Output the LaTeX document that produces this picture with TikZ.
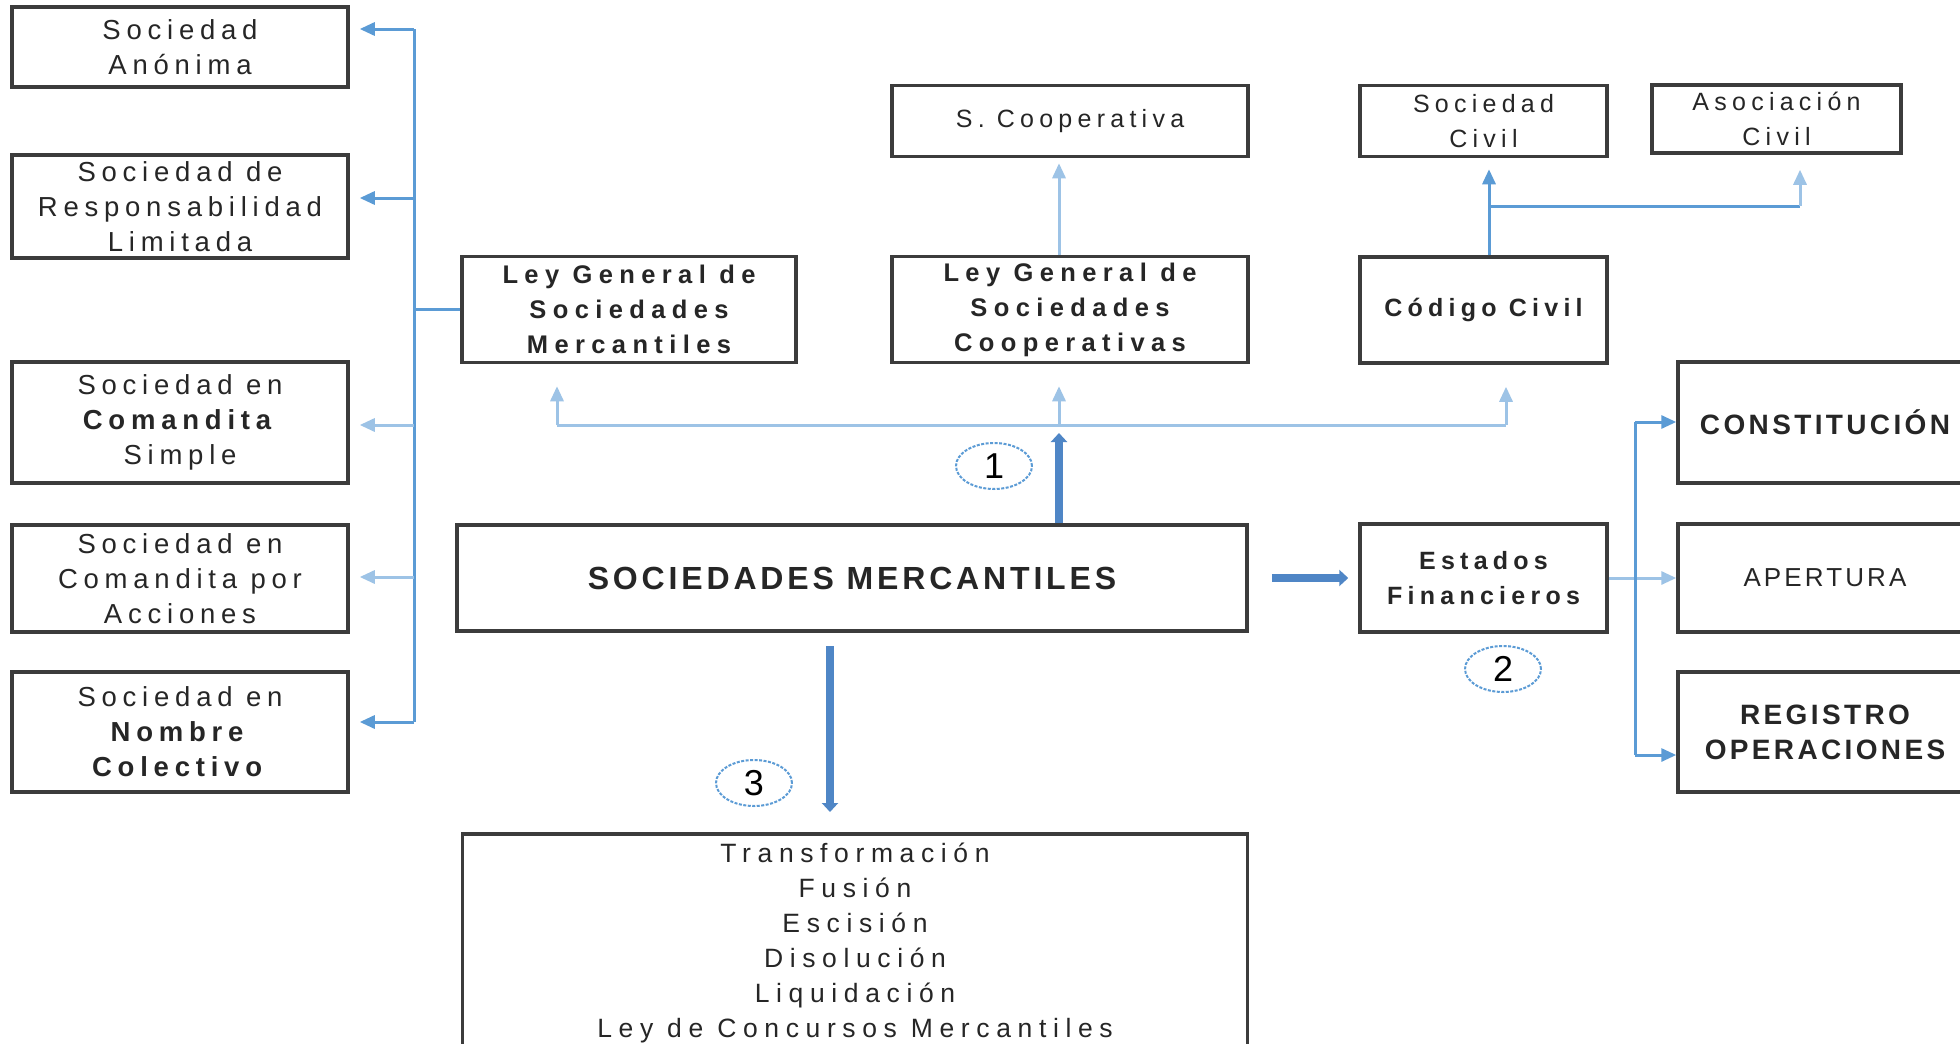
\documentclass[tikz,border=0pt]{standalone}
\usepackage{fontspec}
\setmainfont{Liberation Sans}[LetterSpace=21]
\newfontfamily\capsfont{Liberation Sans}[LetterSpace=12]
\newfontfamily\widefont{Liberation Sans}[LetterSpace=25]
\newfontfamily\plainfont{Liberation Sans}
\usetikzlibrary{arrows.meta,shapes.geometric}
\definecolor{bline}{HTML}{5B9BD5}
\definecolor{lline}{HTML}{9DC3E6}
\definecolor{tline}{HTML}{4F86C6}
\definecolor{bord}{HTML}{3C3C3C}
\newcommand\fszL{\fontsize{27.5}{35}\selectfont}
\newcommand\fszM{\fontsize{25}{35}\selectfont}
\newcommand\fszW{\widefont\fontsize{25.5}{35}\selectfont}
\newcommand\fszC{\capsfont\bfseries\fontsize{28}{35}\selectfont}
\begin{document}
\begin{tikzpicture}[x=1pt,y=-1pt,
  box/.style={draw=bord, line width=3.5pt, fill=white, inner sep=0pt, align=center, text=black!85},
  midl/.style={draw=bline, line width=3pt},
  lightl/.style={draw=lline, line width=3pt},
  tipA/.style={-{Triangle[width=13pt,length=15pt]}},
  thickarr/.style={draw=tline, line width=8pt, -{Triangle[width=16pt,length=9pt]}},
  num/.style={ellipse, draw=bline, line width=2pt, dash pattern=on 3pt off 1.5pt, minimum width=76pt, minimum height=46pt, inner sep=0pt, font=\plainfont\fontsize{36}{36}\selectfont}]
\useasboundingbox (0,0) rectangle (1960,1044);
\clip (0,0) rectangle (1960,1044);
\fill[white] (0,0) rectangle (1960,1044);

% left column
\node[box, minimum width=336pt, minimum height=80pt, font=\fszL] (sa) at (180,47) {Sociedad\\Anónima};
\node[box, minimum width=336pt, minimum height=103pt, font=\fszL] (srl) at (180,206.5) {Sociedad de\\Responsabilidad\\Limitada};
\node[box, minimum width=336pt, minimum height=121pt, font=\fszL] (scs) at (180,422.5) {Sociedad en\\\textbf{Comandita}\\Simple};
\node[box, minimum width=336pt, minimum height=107pt, font=\fszL] (sca) at (180,578.5) {Sociedad en\\Comandita por\\Acciones};
\node[box, minimum width=336pt, minimum height=120pt, font=\fszL] (snc) at (180,732) {Sociedad en\\\textbf{Nombre}\\\textbf{Colectivo}};

% middle / top
\node[box, minimum width=334pt, minimum height=106pt, font=\fszW\bfseries] (lgsm) at (629,309.5) {Ley General de\\Sociedades\\Mercantiles};
\node[box, minimum width=356pt, minimum height=106pt, font=\fszW\bfseries] (lgsc) at (1070,309.5) {Ley General de\\Sociedades\\Cooperativas};
\node[box, minimum width=356pt, minimum height=71pt, font=\fszM] (scoop) at (1070,121) {S. Cooperativa};
\node[box, minimum width=247pt, minimum height=71pt, font=\fszM] (sciv) at (1483.5,121) {Sociedad\\Civil};
\node[box, minimum width=249pt, minimum height=68pt, font=\fszM] (aciv) at (1776.5,119) {Asociación\\Civil};
\node[box, minimum width=247pt, minimum height=106pt, font=\fszM\bfseries] (ccivil) at (1483.5,310) {Código Civil};

% center row
\node[box, minimum width=790pt, minimum height=106pt, font=\capsfont\bfseries\fontsize{32}{35}\selectfont] (sm) at (852,578) {SOCIEDADES MERCANTILES};
\node[box, minimum width=247pt, minimum height=108pt, font=\fszM\bfseries] (ef) at (1483.5,578) {Estados\\Financieros};

% right column
\node[box, minimum width=294pt, minimum height=121pt, font=\fszC] (cons) at (1825,422.5) {CONSTITUCIÓN};
\node[box, minimum width=294pt, minimum height=108pt, font=\capsfont\fontsize{26}{35}\selectfont] (aper) at (1825,578) {APERTURA};
\node[box, minimum width=294pt, minimum height=120pt, font=\fszC] (reg) at (1825,732) {REGISTRO\\OPERACIONES};

% bottom
\node[box, anchor=north, minimum width=785pt, minimum height=218pt, font=\widefont\fontsize{26.5}{35}\selectfont] (bot) at (855,832) {Transformación\\Fusión\\Escisión\\Disolución\\Liquidación\\Ley de Concursos Mercantiles};

% numbers
\node[num] (n1) at (994,466) {1};
\node[num] (n2) at (1503,669) {2};
\node[num] (n3) at (754,783) {3};

% left bus
\coordinate (l1) at (414,29);
\coordinate (l2) at (414,198);
\coordinate (l3) at (414,425);
\coordinate (l4) at (414,577);
\coordinate (l5) at (414,722);
\draw[midl] (l1) -- (l5);
\draw[midl] (lgsm.west) -- (lgsm.west -| l1);
\draw[midl, tipA, shorten >=10pt] (l1) -- (l1 -| sa.east);
\draw[midl, tipA, shorten >=10pt] (l2) -- (l2 -| srl.east);
\draw[lightl, tipA, shorten >=10pt] (l3) -- (l3 -| scs.east);
\draw[lightl, tipA, shorten >=10pt] (l4) -- (l4 -| sca.east);
\draw[midl, tipA, shorten >=10pt] (l5) -- (l5 -| snc.east);

% top bus
\coordinate (t1) at (557,425);
\coordinate (t2) at (1059,425);
\coordinate (t3) at (1506,425);
\draw[lightl] (t1) -- (t3);
\draw[lightl, tipA, shorten >=22pt] (t1) -- (t1 |- lgsm.south);
\draw[lightl, tipA, shorten >=22pt] (t2) -- (t2 |- lgsc.south);
\draw[lightl, tipA, shorten >=22pt] (t3) -- (t3 |- ccivil.south);
\draw[thickarr, shorten >=8pt] (sm.north -| t2) -- (t2);

% LGSC -> S. Cooperativa
\draw[lightl, tipA, shorten >=5pt] (lgsc.north -| t2) -- (t2 |- scoop.south);

% Codigo Civil -> Sociedad Civil / Asociacion Civil
\coordinate (c1) at (1489,206);
\coordinate (c2) at (1800,206);
\draw[midl, tipA, shorten >=11pt] (c1 |- ccivil.north) -- (c1 |- sciv.south);
\draw[midl] (c1) -- (c2);
\draw[lightl, tipA, shorten >=15pt] (c2) -- (c2 |- aciv.south);

% SM -> Estados Financieros
\draw[thickarr, shorten <=23pt, shorten >=10pt] (sm.east) -- (ef.west);

% Estados Financieros -> right column
\coordinate (r1) at (1635,422);
\coordinate (r2) at (1635,755);
\draw[lightl, tipA] (ef.east) -- (aper.west);
\draw[midl] (r1) -- (r2);
\draw[midl, tipA] (r1) -- (r1 -| cons.west);
\draw[midl, tipA] (r2) -- (r2 -| reg.west);

% SM -> bottom
\coordinate (d1) at (830,646);
\draw[thickarr, shorten >=20pt] (d1) -- (d1 |- bot.north);
\end{tikzpicture}
\end{document}
